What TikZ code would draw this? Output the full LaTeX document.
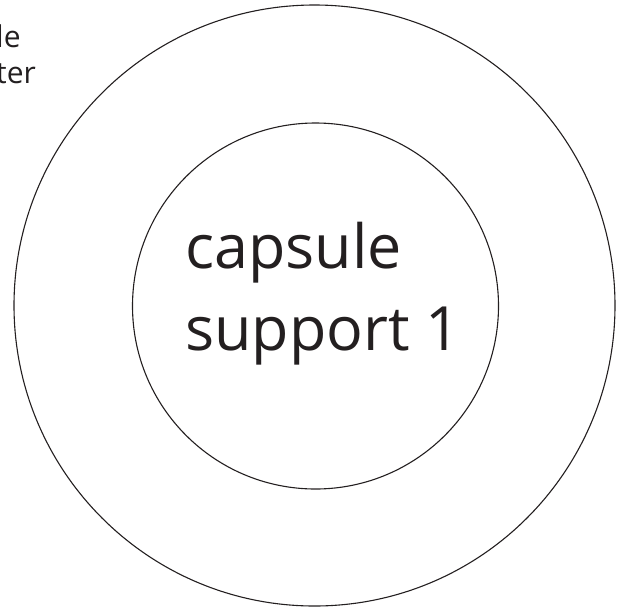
\documentclass[tikz,border=0pt]{standalone}
\usepackage{fontspec}
\setmainfont{Open Sans}
\usetikzlibrary{positioning}
\definecolor{inkblack}{HTML}{231F20}
\begin{document}
\begin{tikzpicture}[x=1pt,y=-1pt,
      ring/.style={
         circle,
         draw=inkblack,
         line width=1.1pt,
         inner sep=0pt
      },
      big label/.style={
         font=\fontsize{61}{82}\selectfont,
         text=inkblack,
         align=left,
         inner sep=0pt
      },
      side label/.style={
         font=\fontsize{30}{36}\selectfont,
         text=inkblack,
         align=left,
         inner sep=0pt
      }
    ]
    \useasboundingbox (0,0) rectangle (629,614);
    % the two rings
    \node (outer) [ring, minimum size=601pt] at (314.5,305.5) {};
    \node (inner) [ring, minimum size=366pt] at (315.5,306) {};
    % labels (base = baseline of the last line)
    \node (capsule) [big label, anchor=base west] at (185,350) {capsule\\support 1};
    \node (side) [side label, anchor=base west] at (-4,83) {le\\ter};
\end{tikzpicture}
\end{document}
